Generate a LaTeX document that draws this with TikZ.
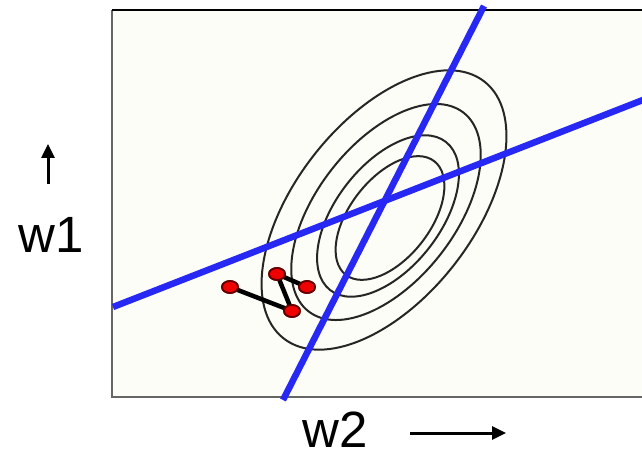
\documentclass[tikz,border=0pt]{standalone}
\usepackage{fontspec}
\setmainfont{Liberation Sans}
\usetikzlibrary{arrows.meta,shapes.geometric}
\definecolor{bluel}{RGB}{40,40,245}
\definecolor{paper}{RGB}{253,253,247}
\definecolor{dotred}{RGB}{240,0,0}
\begin{document}
\begin{tikzpicture}[x=1pt,y=-1pt,
  contour/.style={draw=black!85,line width=2pt},
  axisline/.style={draw=bluel,line width=6.5pt},
  descent/.style={draw=black,line width=4.5pt},
  dot/.style={ellipse,fill=dotred,draw=black!60!red,line width=1.8pt,minimum width=16pt,minimum height=12pt,inner sep=0pt},
  lab/.style={font=\fontsize{51}{51}\selectfont,inner sep=0pt},
  dirarrow/.style={draw=black,line width=3pt,-{Triangle[length=14pt,width=13pt]}}]
\useasboundingbox (0,0) rectangle (642,454);
\begin{scope}
\clip (0,0) rectangle (642,454);
\fill[paper] (112,10) rectangle (650,397);
\draw[black!60,line width=2.5pt] (112,398) -- (112,10);
\draw[black!60,line width=2.5pt] (111,397) -- (650,397);
\draw[black,line width=2.5pt] (112,10) -- (650,10);
% contours
\draw[contour,rotate around={52:(384,210)}] (384,210) ellipse [x radius=163,y radius=89];
\draw[contour,rotate around={52:(386,212)}] (386,212) ellipse [x radius=126,y radius=69];
\draw[contour,rotate around={52:(388,216)}] (388,216) ellipse [x radius=94,y radius=52];
\draw[contour,rotate around={52:(390,218)}] (390,218) ellipse [x radius=72,y radius=40];
% blue lines
\coordinate (l1a) at (113,307);
\coordinate (l1b) at (648,98);
\coordinate (l2a) at (484,6);
\coordinate (l2b) at (283,400);
\draw[axisline] (l1a) -- (l1b);
\draw[axisline] (l2a) -- (l2b);
\end{scope}
% descent path
\node[dot] (p1) at (230,287) {};
\node[dot] (p2) at (292,311) {};
\node[dot] (p3) at (277,274) {};
\node[dot] (p4) at (307,287) {};
\draw[descent] (p1.center) -- (p2.center) -- (p3.center) -- (p4.center);
\node[dot] at (230,287) {};
\node[dot] at (292,311) {};
\node[dot] at (277,274) {};
\node[dot] at (307,287) {};
% labels
\node[lab,anchor=base west] (w1) at (18,252) {w1};
\node[lab,anchor=base west] (w2) at (302,447) {w2};
\coordinate (a1s) at (48,184);
\coordinate (a1e) at (48,144);
\coordinate (a2s) at (410,433);
\coordinate (a2e) at (506,433);
\draw[dirarrow] (a1s) -- (a1e);
\draw[dirarrow] (a2s) -- (a2e);
\end{tikzpicture}
\end{document}
